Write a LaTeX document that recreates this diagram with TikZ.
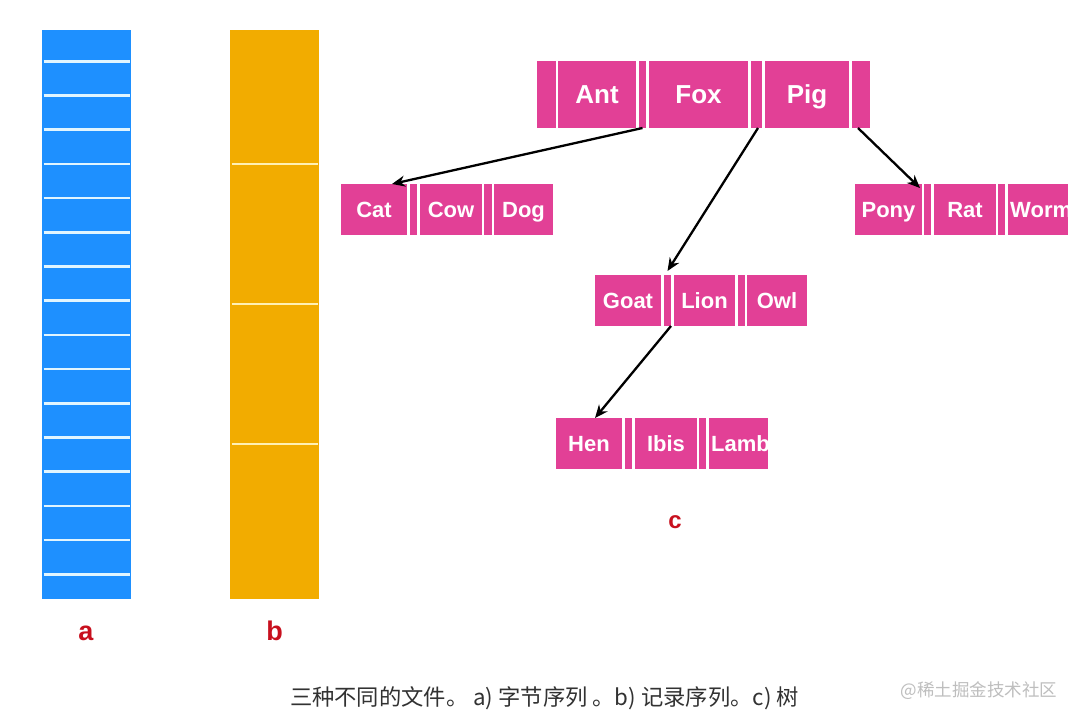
\documentclass[tikz,border=0pt]{standalone}
\usepackage{fontspec}
\setmainfont{Liberation Sans}
\newfontfamily\cjkf{Noto Sans CJK SC}
\usetikzlibrary{arrows.meta}
\definecolor{pinkc}{RGB}{226,64,150}
\definecolor{bluec}{RGB}{30,144,255}
\definecolor{bluel}{RGB}{225,245,255}
\definecolor{yelc}{RGB}{242,172,0}
\definecolor{yell}{RGB}{255,240,180}
\definecolor{redc}{RGB}{200,16,30}
\definecolor{capc}{RGB}{50,50,50}
\definecolor{wmc}{RGB}{190,190,190}
\begin{document}
\begin{tikzpicture}[x=1pt,y=-1pt,
  keybox/.style={fill=pinkc, text=white, inner sep=0pt, outer sep=0pt, anchor=north west,
    font=\fontsize{22}{22}\selectfont\bfseries, minimum height=51pt, text height=15.8pt, text depth=0pt},
  bigkey/.style={keybox, minimum height=67pt, font=\fontsize{26}{26}\selectfont\bfseries, text height=18.6pt},
  celltext/.style={text=white, inner sep=0pt, anchor=west, font=\fontsize{22}{22}\selectfont\bfseries, text height=15.8pt, text depth=0pt},
  ptr/.style={-{Stealth[length=13pt,width=11pt]}, line width=2.3pt, black},
  lab/.style={text=redc, font=\fontsize{27}{27}\selectfont\bfseries, anchor=base, inner sep=0pt},
  sepline/.style={line width=2.6pt},
  ]
\useasboundingbox (0,0) rectangle (1080,721);
\fill[white] (0,0) rectangle (1080,721);

% column a
\node[fill=bluec, anchor=north west, minimum width=89pt, minimum height=569pt, inner sep=0pt] (cola) at (42,30) {};
\foreach \k in {0,...,15} \draw[sepline, bluel] (43.5,61.3+34.2*\k) -- (129.5,61.3+34.2*\k);
% column b
\node[fill=yelc, anchor=north west, minimum width=89pt, minimum height=569pt, inner sep=0pt] (colb) at (230,30) {};
\foreach \yy in {164,304,444} \draw[sepline, yell] (231.5,\yy) -- (317.5,\yy);

\node[lab] (la) at (86,640) {a};
\node[lab] (lb) at (274.5,640.5) {b};
\node[lab, font=\fontsize{24}{24}\selectfont\bfseries] (lc) at (675,528) {c};

% root node
\node[bigkey, minimum width=19pt] (p0) at (537,61) {};
\node[bigkey, minimum width=78pt] (ant) at (558,61) {Ant};
\node[bigkey, minimum width=7pt] (p1) at (639,61) {};
\node[bigkey, minimum width=99pt] (fox) at (649,61) {Fox};
\node[bigkey, minimum width=11pt] (p2) at (751,61) {};
\node[bigkey, minimum width=84pt] (pig) at (765,61) {Pig};
\node[bigkey, minimum width=18pt] (p3) at (852,61) {};

% Cat Cow Dog
\node[keybox, minimum width=66pt] (cat) at (341,184) {Cat};
\node[keybox, minimum width=7pt] (cs1) at (410,184) {};
\node[keybox, minimum width=62pt] (cow) at (420,184) {Cow};
\node[keybox, minimum width=8pt] (cs2) at (484,184) {};
\node[keybox, minimum width=59pt] (dog) at (494,184) {Dog};

% Pony Rat Worm
\node[keybox, minimum width=67pt] (pony) at (855,184) {Pony};
\node[keybox, minimum width=7pt] (ps1) at (924,184) {};
\node[keybox, minimum width=62pt] (rat) at (934,184) {Rat};
\node[keybox, minimum width=7pt] (ps2) at (998,184) {};
\node[keybox, minimum width=60pt] (worm) at (1008,184) {};
\node[celltext] (wormt) at ([xshift=2pt]worm.west) {Worm};

% Goat Lion Owl
\node[keybox, minimum width=66pt] (goat) at (595,275) {Goat};
\node[keybox, minimum width=7pt] (gs1) at (664,275) {};
\node[keybox, minimum width=61pt] (lion) at (674,275) {Lion};
\node[keybox, minimum width=7pt] (gs2) at (738,275) {};
\node[keybox, minimum width=60pt] (owl) at (747,275) {Owl};

% Hen Ibis Lamb
\node[keybox, minimum width=66pt] (hen) at (556,418) {Hen};
\node[keybox, minimum width=7pt] (hs1) at (625,418) {};
\node[keybox, minimum width=62pt] (ibis) at (635,418) {Ibis};
\node[keybox, minimum width=7pt] (hs2) at (699,418) {};
\node[keybox, minimum width=59pt] (lamb) at (709,418) {};
\node[celltext] (lambt) at ([xshift=2pt]lamb.west) {Lamb};

% pointers
\draw[ptr] (p1.south) -- ([xshift=-15pt]cat.north east);
\draw[ptr] ([xshift=1.5pt]p2.south) -- ([yshift=4pt]gs1.north);
\draw[ptr] ([xshift=-3pt]p3.south) -- ([xshift=-2pt,yshift=-4pt]pony.north east);
\draw[ptr] (gs1.south east) -- ([xshift=6pt]hen.north);

% caption
\node[font=\cjkf\fontsize{22.3}{22.3}\selectfont, text=capc, anchor=base, inner sep=0pt] (cap) at (544.5,705.5) {三种不同的文件。 a) 字节序列 。b) 记录序列。c) 树};
\node[font=\cjkf\fontsize{17.5}{17.5}\selectfont, text=wmc, anchor=base, inner sep=0pt] (wm) at (979,696) {@稀土掘金技术社区};
\end{tikzpicture}
\end{document}
